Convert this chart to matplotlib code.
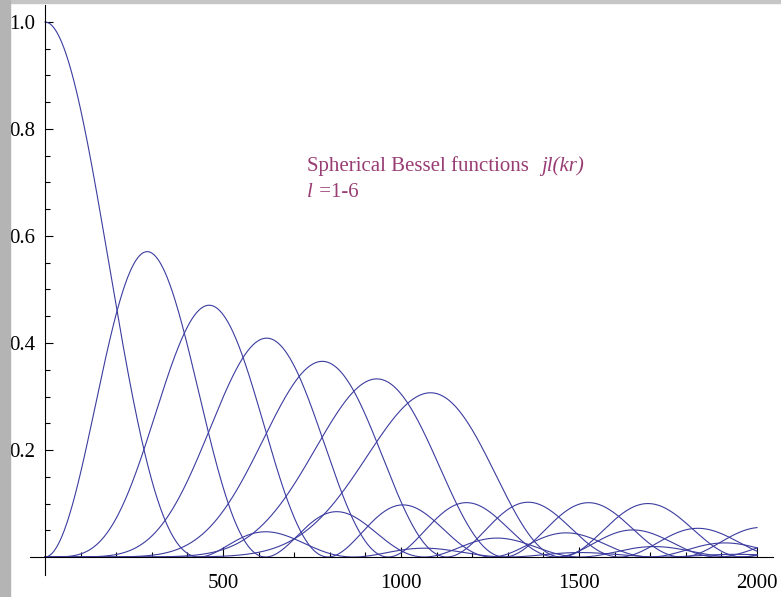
import numpy as np
import matplotlib.pyplot as plt
from matplotlib.patches import Rectangle

# (2l+1) * j_l(kr)^2 for the first seven orders
orders = [0, 1, 2, 3, 4, 5, 6]
k = 0.00725
r_max = 2000

x_ticks = [500, 1000, 1500, 2000]
y_ticks = [0.2, 0.4, 0.6, 0.8, 1.0]
y_tick_labels = ['0.2', '0.4', '0.6', '0.8', '1.0']

line_color = '#3c3ca0'
text_color = '#983c74'

plt.rcParams['font.family'] = ['Liberation Serif', 'DejaVu Serif']


def spherical_jn(l, x):
    # j_l(x) = 1/(2 i^l) * integral_{-1}^{1} P_l(t) exp(ixt) dt, by Gauss-Legendre
    t, w = np.polynomial.legendre.leggauss(60)
    coef = np.zeros(l + 1)
    coef[l] = 1
    p = np.polynomial.legendre.legval(t, coef)
    integral = (w * p * np.exp(1j * np.outer(x, t))).sum(axis=1)
    return np.real(integral / (2 * 1j ** l))


W, H = 781, 597
fig = plt.figure(figsize=(W / 100, H / 100), dpi=100)

# grey window frame at top and left
fig.patches.append(Rectangle((0, 1 - 3 / H), 1, 3 / H, transform=fig.transFigure,
                             color='#c6c6c6', zorder=0))
fig.patches.append(Rectangle((0, 0), 10 / W, 1, transform=fig.transFigure,
                             color='#b4b4b4', zorder=0))

ax = fig.add_axes([30 / W, (H - 575) / H, (773 - 30) / W, (575 - 5) / H])
ax.patch.set_alpha(0)

r = np.linspace(0, r_max, 2001)
for l in orders:
    y = (2 * l + 1) * spherical_jn(l, k * r) ** 2
    ax.plot(r, y, color=line_color, lw=0.8)

px_x = 712 / r_max
px_y = 535
ax.set_xlim(-15 / px_x, r_max + 16 / px_x)
ax.set_ylim(-18 / px_y, 552 / px_y)

# Mathematica style axes crossing at the origin
for side in ['top', 'right']:
    ax.spines[side].set_visible(False)
ax.spines['left'].set_position(('data', 0))
ax.spines['bottom'].set_position(('data', 0))
for side in ['left', 'bottom']:
    ax.spines[side].set_linewidth(0.8)

ax.set_xticks(x_ticks)
ax.set_xticks(np.arange(100, r_max + 1, 100), minor=True)
ax.set_yticks(y_ticks)
ax.set_yticklabels(y_tick_labels)
ax.set_yticks(np.arange(0.05, 1.01, 0.05), minor=True)
ax.tick_params(which='both', direction='in', width=0.8, labelsize=15)
ax.tick_params(axis='x', which='major', length=7, pad=12)
ax.tick_params(axis='x', which='minor', length=3.5)
ax.tick_params(axis='y', which='major', length=6, pad=7)
ax.tick_params(axis='y', which='minor', length=3.5)

t1 = ax.text(736, 0.7215, 'Spherical Bessel functions', color=text_color,
             fontsize=15, va='baseline')
ax.annotate('jl(kr)', xy=(1, 0), xycoords=t1, xytext=(9, 0),
            textcoords='offset points', color=text_color, fontsize=15,
            style='italic', va='bottom')
t2 = ax.text(736, 0.673, 'l', color=text_color, fontsize=15, style='italic',
             va='baseline')
ax.annotate(' =1-6', xy=(1, 0), xycoords=t2, xytext=(1, 0),
            textcoords='offset points', color=text_color, fontsize=15,
            va='bottom')

fig.savefig('out.png', dpi=100)
